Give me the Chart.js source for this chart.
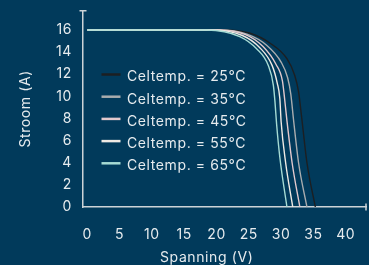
<!DOCTYPE html>
<html>
<head>
<meta charset="utf-8">
<script src="https://cdn.jsdelivr.net/npm/chart.js@4"></script>
<style>
  html, body { margin: 0; padding: 0; background: #013a5b; }
  #wrap { width: 369px; height: 265px; }
</style>
</head>
<body>
<div id="wrap"><canvas id="ivChart"></canvas></div>
<script>
// spanning (V) / stroom (A), one curve per cell temperature
const temps = ["Celtemp. = 25°C", "Celtemp. = 35°C", "Celtemp. = 45°C", "Celtemp. = 55°C", "Celtemp. = 65°C"];
const colors = ["#1c1f22", "#a9acae", "#e2c9cd", "#efeae4", "#a6dbd4"];

const volt25 = [0, 21.0, 25.2, 28.3, 30.9, 32.1, 32.7, 33.2, 34.0, 35.3];
const amp25  = [16, 16, 15.7, 14.8, 13.4, 11.9, 10.4, 8.0, 4.0, 0];
const volt35 = [0, 20.5, 24.8, 27.8, 30.0, 31.0, 31.5, 31.9, 32.7, 34.0];
const amp35  = [16, 16, 15.6, 14.6, 13.1, 11.7, 10.2, 8.0, 4.0, 0];
const volt45 = [0, 19.8, 24.4, 27.2, 29.2, 30.2, 30.5, 30.9, 31.7, 32.9];
const amp45  = [16, 16, 15.6, 14.5, 12.9, 11.4, 10.0, 7.8, 4.0, 0];
const volt55 = [0, 19.2, 24.0, 26.7, 28.6, 29.4, 29.8, 30.0, 30.7, 31.8];
const amp55  = [16, 16, 15.5, 14.4, 12.8, 11.2, 9.8, 7.7, 4.0, 0];
const volt65 = [0, 18.5, 23.6, 26.2, 28.0, 28.8, 29.05, 29.3, 29.8, 30.9];
const amp65  = [16, 16, 15.4, 14.3, 12.8, 11.0, 9.5, 7.5, 4.5, 0];

const xTicks = [0, 5, 10, 15, 20, 25, 30, 35, 40];
const yTicks = [0, 2, 4, 6, 8, 10, 12, 14, 16];

const volts = [volt25, volt35, volt45, volt55, volt65];
const amps = [amp25, amp35, amp45, amp55, amp65];

const textColor = "#e6ebee";
const axisColor = "#cdd3d7";
const font = "Inter";

function toPoints(xs, ys) {
    return xs.map((x, i) => ({ x: x, y: ys[i] }));
}

const datasets = temps.map((t, i) => ({
    label: t,
    data: toPoints(volts[i], amps[i]),
    borderColor: colors[i],
    backgroundColor: colors[i],
    borderWidth: 1.4,
    pointRadius: 0,
    cubicInterpolationMode: "monotone",
    fill: false
})).reverse();

// background, axis end caps, inner legend, x title
const extras = {
    id: "extras",
    beforeDraw(chart) {
        const ctx = chart.ctx;
        ctx.letterSpacing = "0.6px";
        ctx.save();
        ctx.fillStyle = "#013a5b";
        ctx.fillRect(0, 0, chart.width, chart.height);
        ctx.restore();
    },
    afterDraw(chart) {
        const ctx = chart.ctx;
        const a = chart.chartArea;
        ctx.save();
        ctx.strokeStyle = axisColor;
        ctx.lineWidth = 1.5;
        ctx.beginPath();
        ctx.moveTo(a.left - 3.5, a.top);
        ctx.lineTo(a.left + 3.5, a.top);
        ctx.moveTo(a.right, a.bottom - 3.5);
        ctx.lineTo(a.right, a.bottom + 3.5);
        ctx.stroke();

        // legend
        ctx.font = "14px " + font;
        ctx.textBaseline = "middle";
        ctx.fillStyle = textColor;
        let y = a.top + 66.5;
        temps.forEach((t, i) => {
            ctx.strokeStyle = colors[i];
            ctx.lineWidth = 2.5;
            ctx.beginPath();
            ctx.moveTo(a.left + 18.5, y - 2.7);
            ctx.lineTo(a.left + 37.5, y - 2.7);
            ctx.stroke();
            ctx.fillText(t, a.left + 44, y);
            y += 22.2;
        });

        // x title
        ctx.textAlign = "center";
        ctx.fillText("Spanning (V)", a.left + (a.right - a.left) * 0.437, chart.height - 7);
        ctx.restore();
    }
};

new Chart(document.getElementById("ivChart"), {
    type: "line",
    data: { datasets: datasets },
    options: {
        responsive: true,
        maintainAspectRatio: false,
        animation: false,
        layout: { padding: { top: 10.7, right: 3, left: 0, bottom: 0 } },
        plugins: { legend: { display: false }, tooltip: { enabled: false } },
        scales: {
            x: {
                type: "linear",
                min: -0.67,
                max: 43.14,
                afterFit: s => { s.height = 58; s.paddingLeft = 0; s.paddingRight = 0; },
                afterBuildTicks: s => { s.ticks = xTicks.map(v => ({ value: v })); },
                grid: { display: false, drawTicks: false },
                border: { display: true, color: axisColor, width: 1.5 },
                ticks: { color: textColor, font: { family: font, size: 14 }, padding: 19, maxRotation: 0, autoSkip: false }
            },
            y: {
                min: 0,
                max: 17.74,
                afterFit: s => { s.width = 83; s.paddingTop = 0; s.paddingBottom = 0; },
                afterBuildTicks: s => { s.ticks = yTicks.map(v => ({ value: v })); },
                grid: { display: false, drawTicks: false },
                border: { display: true, color: axisColor, width: 1.5 },
                ticks: { color: textColor, font: { family: font, size: 14 }, padding: 11 },
                title: {
                    display: true,
                    text: "Stroom (A)",
                    color: textColor,
                    font: { family: font, size: 14 },
                    padding: { top: 17, bottom: 0 }
                }
            }
        }
    },
    plugins: [extras]
});
</script>
</body>
</html>
